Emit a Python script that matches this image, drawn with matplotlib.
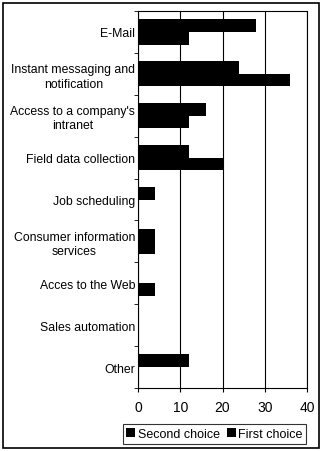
import matplotlib
matplotlib.use("Agg")
import matplotlib.pyplot as plt
from matplotlib.patches import Rectangle
import numpy as np

categories = ["E-Mail", "Instant messaging and\nnotification", "Access to a company's\nintranet",
              "Field data collection", "Job scheduling", "Consumer information\nservices",
              "Acces to the Web", "Sales automation", "Other"]
second_choice = [12, 36, 12, 20, 0, 4, 4, 0, 0]
first_choice = [28, 24, 16, 12, 4, 4, 0, 0, 12]
x_ticks = [0, 10, 20, 30, 40]

plt.rcParams['font.family'] = ['Liberation Sans Narrow', 'Liberation Sans', 'DejaVu Sans']

fig = plt.figure(figsize=(3.22, 4.52), dpi=100)
ax = fig.add_axes([138/322, 1-389/452, (307-138)/322, (389-12)/452])

n = len(categories)
y = np.arange(n)
h = 0.3
ax.barh(y + h/2, second_choice, height=h, color='black', label='Second choice')
ax.barh(y - h/2, first_choice, height=h, color='black', label='First choice')

ax.set_ylim(n - 0.5, -0.5)
ax.set_xlim(0, 40)
ax.set_xticks(x_ticks)
ax.set_xticklabels([str(t) for t in x_ticks], fontsize=10)
ax.set_yticks(y)
ax.set_yticklabels(categories, fontsize=8.8, linespacing=1.25)
for t in ax.get_yticklabels():
    t.set_multialignment('center')
ax.tick_params(axis='y', length=0, pad=2)
ax.set_yticks(np.arange(n + 1) - 0.5, minor=True)
ax.tick_params(axis='y', which='minor', length=3, direction='out')
ax.tick_params(axis='x', length=3, direction='out', pad=6)
ax.xaxis.grid(True, color='black', linewidth=0.8)
ax.set_axisbelow(True)
for s in ax.spines.values():
    s.set_linewidth(0.8)

leg = fig.legend(loc='center', bbox_to_anchor=(124/322, 5/452, (305-124)/322, 24/452),
                 ncol=2, fontsize=9, frameon=True, fancybox=False,
                 edgecolor='black', handlelength=0.7, handleheight=0.7,
                 handletextpad=0.2, columnspacing=0.6, borderpad=0.3)
leg.get_frame().set_linewidth(0.8)

fig.patches.append(Rectangle((3/322, 3/452), 316/322, 445/452, transform=fig.transFigure,
                             fill=False, edgecolor='black', linewidth=1.2))
fig.savefig("out.png", dpi=100)
